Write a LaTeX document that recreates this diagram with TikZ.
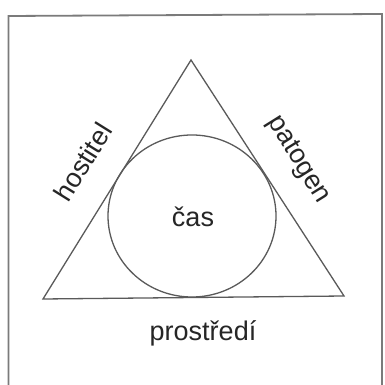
\documentclass[tikz,border=0pt]{standalone}
\usepackage{fontspec}
\setmainfont{Liberation Sans}
\definecolor{linegray}{HTML}{5A5A5A}
\definecolor{textgray}{HTML}{262626}
\tikzset{
  lbl/.style={text=textgray, font=\fontsize{27}{30}\selectfont, inner sep=0pt},
  shape line/.style={draw=linegray, line width=1.3pt},
  frame line/.style={draw=linegray!80, line width=1.8pt}
}
\begin{document}
\begin{tikzpicture}[x=1pt,y=1pt]
\useasboundingbox (0,0) rectangle (385,385);
\fill[white] (0,0) rectangle (385,385);
% frame
\draw[frame line] (8.5,-5) -- (8.5,369) -- (382,371) -- (382,-5);
% triangle
\coordinate (apex) at (191,325);
\coordinate (bl) at (43,86);
\coordinate (br) at (344,89);
\draw[shape line, line join=miter] (apex) -- (br) -- (bl) -- cycle;
% circle
\coordinate (c) at (192,169);
\draw[shape line] (c) ellipse [x radius=84, y radius=81];
% labels
\node[lbl] (cas) at (193,168) {čas};
\node[lbl] (prostredi) at (203,52) {prostředí};
\node[lbl, rotate=58] (hostitel) at (83,223) {hostitel};
\node[lbl, rotate=-58] (patogen) at (298,225) {patogen};
\end{tikzpicture}
\end{document}
